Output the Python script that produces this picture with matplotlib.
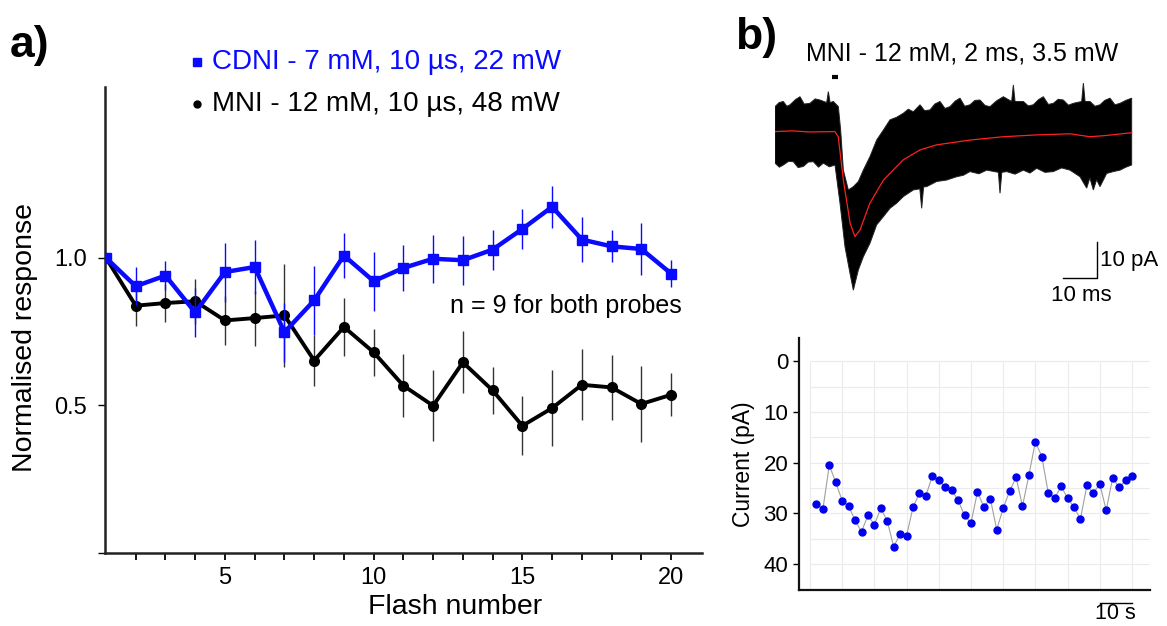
import matplotlib
matplotlib.use("Agg")
import matplotlib.pyplot as plt
from matplotlib.lines import Line2D
import numpy as np

plt.rcParams["font.family"] = ["Liberation Sans", "DejaVu Sans"]

W, H = 1167, 626

# ---- panel a: normalised response per flash ----
flash = list(range(1, 21))
cdni_mean = [1.0, 0.904, 0.94, 0.815, 0.952, 0.969, 0.748, 0.856, 1.008, 0.921,
             0.966, 0.997, 0.992, 1.028, 1.098, 1.173, 1.062, 1.039, 1.03, 0.947]
cdni_err = [0.0, 0.065, 0.05, 0.083, 0.10, 0.09, 0.10, 0.117, 0.076, 0.10,
            0.078, 0.081, 0.083, 0.068, 0.068, 0.072, 0.076, 0.054, 0.089, 0.047]
mni_mean = [1.0, 0.838, 0.847, 0.853, 0.788, 0.796, 0.805, 0.652, 0.766, 0.68,
            0.567, 0.499, 0.646, 0.551, 0.431, 0.491, 0.57, 0.561, 0.505, 0.536]
mni_err = [0.0, 0.07, 0.065, 0.077, 0.083, 0.093, 0.175, 0.085, 0.098, 0.08,
           0.107, 0.12, 0.105, 0.08, 0.10, 0.13, 0.12, 0.11, 0.13, 0.073]

# ---- panel b (top): overlaid sweeps, envelope + mean (ms, pA) ----
env_upper_t = [0, 1.2, 2.45, 3.5, 4.41, 6.0, 7.35, 8.6, 10.29, 11.8, 13.24, 15.2,
               15.69, 16.2, 17.16, 18.63, 19.31, 20.1, 21.57, 23.04, 24.51, 25.98,
               27.94, 29.9, 31.86, 33.82, 35.78, 37.75, 39.2, 40.69, 42.65, 44.0,
               45.59, 47.0, 48.53, 50.0, 51.47, 53.0, 54.41, 55.8, 57.35, 58.8,
               60.29, 61.8, 63.24, 65.2, 67.16, 69.6, 70.1, 70.6, 73.04, 74.5,
               75.98, 77.5, 78.92, 80.4, 81.86, 83.3, 84.8, 86.3, 87.75, 90.2,
               90.69, 91.2, 92.65, 94.1, 95.59, 97.0, 98.53, 100.0, 101.47,
               103.2, 104.9]
env_upper = [6.9, 8.0, 8.3, 7.0, 7.4, 8.8, 9.6, 7.6, 7.8, 9.0, 8.7, 8.0,
             11.0, 8.0, 8.3, 6.9, 0.5, -10.4, -15.8, -14.9, -13.5, -10.4,
             -6.7, -2.2, 0.5, 3.3, 4.0, 5.1, 6.2, 5.5, 7.4, 5.8,
             6.0, 7.6, 8.3, 6.4, 6.9, 8.4, 9.2, 7.0, 7.4, 8.6,
             8.7, 7.2, 6.9, 8.5, 9.6, 8.3, 12.8, 8.3, 8.3, 7.1,
             7.4, 8.8, 9.6, 7.5, 7.8, 8.9, 8.7, 7.3, 7.8, 8.3,
             13.3, 8.3, 8.3, 7.0, 7.4, 8.6, 9.2, 7.4, 7.8,
             8.6, 9.2]
env_lower_t = [0, 1.3, 2.45, 4.0, 5.39, 6.8, 8.33, 9.8, 11.27, 12.8, 14.22, 16.0,
               17.65, 19.12, 20.59, 22.06, 23.04, 24.51, 25.98, 27.94, 29.9,
               31.86, 33.82, 35.78, 37.75, 40.69, 42.6, 43.14, 43.7, 44.61,
               47.55, 50.49, 53.43, 55.4, 57.35, 60.0, 62.25, 65.7, 66.18, 66.7,
               68.14, 70.6, 73.04, 75.0, 76.96, 79.4, 81.86, 84.3, 86.76, 89.71,
               91.67, 92.6, 93.63, 94.6, 95.59, 97.55, 99.5, 101.47, 103.2, 104.9]
env_lower = [-8.5, -9.6, -9.0, -8.0, -8.1, -9.7, -9.4, -8.2, -8.1, -9.6, -8.5, -9.5,
             -9.0, -19.4, -31.3, -38.5, -43.1, -37.6, -34.0, -30.3, -25.3,
             -23.1, -20.8, -19.4, -17.6, -15.8, -15.5, -20.8, -15.0, -14.9,
             -13.5, -13.1, -12.2, -11.8, -10.8, -11.4, -10.4, -11.0, -16.7, -11.0,
             -10.8, -11.5, -10.4, -11.2, -9.9, -11.0, -10.8, -9.8, -10.4, -12.2,
             -15.3, -12.5, -15.8, -13.0, -14.9, -11.3, -10.8, -10.4, -9.6, -9.0]
mean_t = [0, 5, 10, 17.6, 18.6, 20.1, 22.1, 23.5, 25, 27.9, 31.9, 37.7, 42.6,
          47.6, 57.4, 67.1, 77, 86.8, 92.6, 97, 104.9]
mean_pa = [0.1, 0.3, 0.0, 0.1, -1.3, -13.1, -24.9, -28.5, -26.7, -19.4, -13.1, -7.6,
           -4.9, -3.5, -2.2, -1.3, -0.8, -0.5, -1.3, -1.0, -0.2]

# ---- panel b (bottom): peak current per sweep ----
sweep_time = np.arange(2, 101, 2)
peak_current = [28.1, 29.2, 20.5, 23.9, 27.5, 28.5, 31.4, 33.6, 30.4, 32.2,
                29.0, 31.5, 36.6, 34.0, 34.4, 28.8, 26.0, 26.5, 22.6, 23.5,
                24.8, 25.4, 27.4, 30.4, 31.9, 25.8, 28.7, 27.1, 33.2, 29.0,
                25.6, 22.9, 28.6, 22.4, 15.9, 18.8, 26.0, 27.0, 24.7, 27.0,
                28.8, 31.1, 24.5, 26.0, 24.2, 29.4, 23.0, 24.9, 23.5, 22.6]

BLUE = "#0a0aff"

fig = plt.figure(figsize=(W / 100, H / 100), dpi=100)

# panel a
ax = fig.add_axes([105.1 / W, 1 - 553 / H, 597.2 / W, 466.3 / H])
ax.errorbar(flash, mni_mean, yerr=mni_err, color="black", ecolor="#333333",
            elinewidth=1.0, lw=2.8, marker="o", ms=7, capsize=0, zorder=2)
ax.errorbar(flash, cdni_mean, yerr=cdni_err, color=BLUE, ecolor=BLUE,
            elinewidth=1.0, lw=3.2, marker="s", ms=7.5, capsize=0, zorder=3)
ax.set_xlim(0.97, 21.05)
ax.set_ylim(0, 1.58)
ax.set_xticks(range(2, 21))
ax.set_xticklabels([str(i) if i % 5 == 0 else "" for i in range(2, 21)])
ax.set_yticks([0, 0.5, 1.0])
ax.set_yticklabels(["", "0.5", "1.0"])
for s in ["top", "right"]:
    ax.spines[s].set_visible(False)
for s in ["left", "bottom"]:
    ax.spines[s].set_linewidth(1.8)
    ax.spines[s].set_color("#222222")
ax.tick_params(axis="x", direction="out", length=5, width=1.3, labelsize=17, pad=5)
ax.tick_params(axis="y", direction="out", length=5, width=1.0, labelsize=17, pad=8)
ax.text(20.37, 0.836, "n = 9 for both probes", ha="right", va="center", fontsize=18)
fig.text(455 / W, 1 - 607 / H, "Flash number", ha="center", va="center", fontsize=20.5)
fig.text(25 / W, 1 - 337 / H, "Normalised response", rotation=90, ha="center",
         va="center", fontsize=20.5)

# legend drawn by hand, like the original figure
fig.add_artist(Line2D([197 / W], [1 - 62 / H], marker="s", ms=6, color=BLUE,
                      transform=fig.transFigure))
fig.text(212 / W, 1 - 62 / H, "CDNI - 7 mM, 10 \u00b5s, 22 mW", color=BLUE,
         ha="left", va="center", fontsize=20)
fig.add_artist(Line2D([197 / W], [1 - 104 / H], marker="o", ms=5, color="black",
                      transform=fig.transFigure))
fig.text(212 / W, 1 - 104 / H, "MNI - 12 mM, 10 \u00b5s, 48 mW", color="black",
         ha="left", va="center", fontsize=20)
fig.text(10 / W, 1 - 45 / H, "a)", fontsize=32, fontweight="bold", ha="left", va="center")
fig.text(735 / W, 1 - 38 / H, "b)", fontsize=32, fontweight="bold", ha="left", va="center")

# panel b top: sweeps
axt = fig.add_axes([775 / W, 1 - 310 / H, 365 / W, 250 / H])
poly_t = np.concatenate([env_upper_t, env_lower_t[::-1]])
poly_y = np.concatenate([env_upper, env_lower[::-1]])
axt.fill(poly_t, poly_y, facecolor="black", edgecolor="#222222", lw=0.7)
axt.plot(mean_t, mean_pa, color="#ff2020", lw=0.9)
axt.set_xlim(0, 107.35)
axt.set_ylim(-48.5, 19.6)
axt.axis("off")
# stimulus bar and scale bars
axt.plot([16.8, 18.5], [15.0, 15.0], color="black", lw=3, solid_capstyle="butt")
axt.plot([84.7, 94.7, 94.7], [-39.9, -39.9, -29.9], color="black", lw=1.0)
axt.text(95.6, -34.9, "10 pA", ha="left", va="center", fontsize=16)
axt.text(90, -44.6, "10 ms", ha="center", va="center", fontsize=16, clip_on=False)
fig.text(962 / W, 1 - 53 / H, "MNI - 12 mM, 2 ms, 3.5 mW", ha="center", va="center",
         fontsize=18)

# panel b bottom: current per sweep
axb = fig.add_axes([799.3 / W, 1 - 590 / H, 350.7 / W, 251.7 / H])
axb.set_xlim(-3.32, 105.6)
axb.set_ylim(45.1, -4.5)
axb.hlines(np.arange(0, 41, 5), 0, 105.6, color="#ebebeb", lw=0.8, zorder=0)
axb.vlines(np.arange(0, 101, 10), 0, 45.1, color="#ebebeb", lw=0.8, zorder=0)
axb.plot(sweep_time, peak_current, color="#a0a0a0", lw=0.8, zorder=1)
axb.plot(sweep_time, peak_current, "o", color="#0000ee", ms=5, zorder=2)
axb.set_yticks([0, 10, 20, 30, 40])
axb.set_xticks([])
for s in ["top", "right"]:
    axb.spines[s].set_visible(False)
for s in ["left", "bottom"]:
    axb.spines[s].set_linewidth(1.6)
    axb.spines[s].set_color("#111111")
axb.tick_params(axis="y", direction="out", length=4, width=1.0, labelsize=16, pad=4)
axb.set_ylabel("Current (pA)", fontsize=16.5, labelpad=6)
axb.plot([90, 100], [47.6, 47.6], color="black", lw=1.0, clip_on=False)
axb.text(95, 49.8, "10 s", ha="center", va="center", fontsize=15.5, clip_on=False)

fig.savefig("out.png", dpi=100)
